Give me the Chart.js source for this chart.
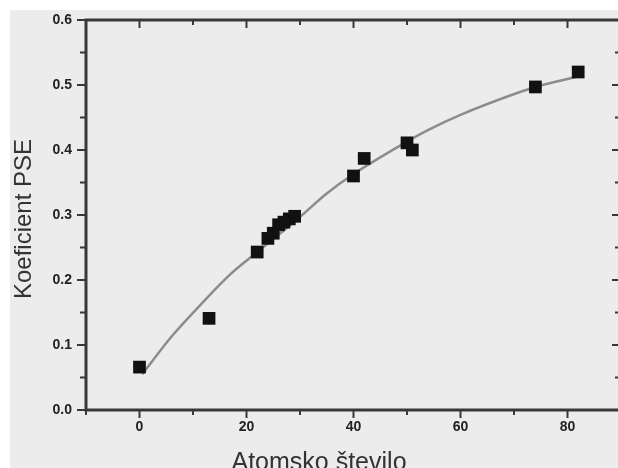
<!DOCTYPE html>
<html>
<head>
<meta charset="utf-8">
<script src="https://cdn.jsdelivr.net/npm/chart.js@4/dist/chart.umd.min.js"></script>
<style>
  html, body { margin: 0; padding: 0; background: #fff; overflow: hidden; }
  #chart { position: absolute; left: 0; top: 0; }
</style>
</head>
<body>
<canvas id="chart" width="630" height="468"></canvas>
<script>
// measured points
const atomicNumbers = [0, 13, 22, 24, 25, 26, 27, 28, 29, 40, 42, 50, 51, 74, 82];
const pseValues = [0.066, 0.141, 0.243, 0.264, 0.272, 0.285, 0.289, 0.294, 0.298, 0.36, 0.387, 0.411, 0.40, 0.497, 0.52];

// fitted curve
const fitX = [0.5, 6, 12, 17, 22, 30, 35, 40, 50, 54, 60, 70.7, 74, 83];
const fitY = [0.055, 0.113, 0.167, 0.209, 0.243, 0.297, 0.333, 0.363, 0.413, 0.431, 0.454, 0.488, 0.497, 0.515];

const xTitle = 'Atomsko število';
const yTitle = 'Koeficient PSE';

const frame = {
  id: 'frame',
  beforeDraw(chart) {
    const ctx = chart.ctx;
    ctx.save();
    ctx.fillStyle = '#ececec';
    ctx.fillRect(10, 10, chart.width, chart.height);
    ctx.restore();
  },
  afterDraw(chart) {
    const ctx = chart.ctx;
    const a = chart.chartArea;
    const xs = chart.scales.x, ys = chart.scales.y;
    ctx.save();
    ctx.strokeStyle = '#383838';
    ctx.lineWidth = 2;
    ctx.beginPath();
    xs.ticks.forEach(t => {
      const px = xs.getPixelForValue(t.value);
      const len = t.value % 20 === 0 ? 8 : 5;
      ctx.moveTo(px, a.bottom); ctx.lineTo(px, a.bottom + len);
      ctx.moveTo(px, a.top); ctx.lineTo(px, a.top + len);
    });
    ys.ticks.forEach(t => {
      const py = ys.getPixelForValue(t.value);
      const major = Math.abs(t.value * 10 - Math.round(t.value * 10)) < 1e-6;
      const len = major ? 9 : 6;
      ctx.moveTo(a.left, py); ctx.lineTo(a.left - len, py);
      ctx.moveTo(a.right, py); ctx.lineTo(a.right - len, py);
    });
    ctx.stroke();
    ctx.lineWidth = 3;
    ctx.strokeRect(a.left, a.top, a.right - a.left, a.bottom - a.top);

    ctx.fillStyle = '#333';
    ctx.textAlign = 'center';
    ctx.textBaseline = 'alphabetic';
    ctx.font = '25px "Liberation Sans", Arial, sans-serif';
    ctx.fillText(xTitle, 319, 470);
    ctx.font = '24px "Liberation Sans", Arial, sans-serif';
    ctx.translate(31, 219);
    ctx.rotate(-Math.PI / 2);
    ctx.fillText(yTitle, 0, 0);
    ctx.restore();
  }
};

const tickFont = { family: '"Liberation Sans Narrow", "Liberation Sans", sans-serif', size: 14, weight: 'bold' };

new Chart(document.getElementById('chart'), {
  type: 'scatter',
  data: {
    datasets: [{
      data: atomicNumbers.map((x, i) => ({ x: x, y: pseValues[i] })),
      pointStyle: 'rect',
      pointRadius: 9,
      backgroundColor: '#111',
      borderColor: '#111',
      borderWidth: 0
    }, {
      data: fitX.map((x, i) => ({ x: x, y: fitY[i] })),
      showLine: true,
      pointRadius: 0,
      borderColor: '#8c8c8c',
      borderWidth: 2.5,
      cubicInterpolationMode: 'monotone'
    }]
  },
  options: {
    responsive: false,
    animation: false,
    layout: { padding: { left: 0, right: 5, top: 20, bottom: 0 } },
    plugins: { legend: { display: false }, tooltip: { enabled: false } },
    scales: {
      x: {
        type: 'linear', min: -10, max: 90,
        afterFit: s => { s.height = 58; },
        border: { display: false },
        grid: { drawOnChartArea: false, drawTicks: true, tickLength: 8, color: 'rgba(0,0,0,0)' },
        ticks: {
          stepSize: 10, padding: 1, color: '#222', font: tickFont, maxRotation: 0, autoSkip: false,
          callback: v => (v % 20 === 0 ? v : '')
        }
      },
      y: {
        type: 'linear', min: 0, max: 0.6,
        afterFit: s => { s.width = 86; },
        border: { display: false },
        grid: { drawOnChartArea: false, drawTicks: true, tickLength: 8, color: 'rgba(0,0,0,0)' },
        ticks: {
          stepSize: 0.05, padding: 6, color: '#222', font: tickFont, autoSkip: false,
          callback: v => (Math.abs(v * 10 - Math.round(v * 10)) < 1e-6 ? v.toFixed(1) : '')
        }
      }
    }
  },
  plugins: [frame]
});
</script>
</body>
</html>
